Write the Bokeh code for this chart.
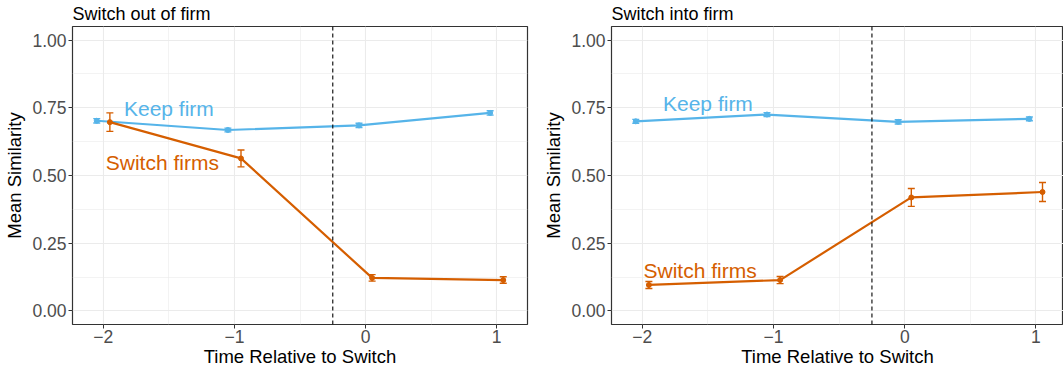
import numpy as np
from bokeh.plotting import figure
from bokeh.models import (FixedTicker, Span, Whisker, TeeHead, ColumnDataSource,
                          Range1d, NumeralTickFormatter)
from bokeh.layouts import row
from bokeh.embed import file_html
from bokeh.resources import INLINE
from bokeh.core.properties import value

# ---------------- data ----------------
time = [-2, -1, 0, 1]
dodge = 0.05

out_keep = [0.702, 0.668, 0.685, 0.731]
out_keep_err = [0.008, 0.007, 0.008, 0.008]
out_switch = [0.697, 0.563, 0.122, 0.114]
out_switch_err = [0.034, 0.031, 0.012, 0.012]

in_keep = [0.700, 0.725, 0.698, 0.709]
in_keep_err = [0.007, 0.007, 0.008, 0.007]
in_switch = [0.096, 0.114, 0.419, 0.439]
in_switch_err = [0.013, 0.013, 0.033, 0.035]

panel_titles = ["Switch out of firm", "Switch into firm"]
series_names = ["Keep firm", "Switch firms"]
x_ticks = [-2, -1, 0, 1]
x_tick_labels = ["\u22122", "\u22121", "0", "1"]
y_ticks = [0.0, 0.25, 0.5, 0.75, 1.0]
switch_time = -0.25

BLUE = "#56B4E9"
ORANGE = "#D55E00"
FONT = "Liberation Sans"


def make_panel(title, keep, keep_err, switch, switch_err, label_pos,
               width, x_end, border_right):
    p = figure(width=width, height=372, output_backend="svg",
               toolbar_location=None, x_range=Range1d(-2.235, x_end),
               y_range=Range1d(-0.05, 1.05),
               min_border_left=72, min_border_right=border_right,
               min_border_top=26, min_border_bottom=48)
    p.title.text = title
    p.title.text_font = FONT
    p.title.text_font_size = "18px"
    p.title.text_font_style = "normal"
    p.title.text_color = "#000000"
    p.title.vertical_align = "top"
    p.title.text_baseline = "top"
    p.title.standoff = 2
    p.title.offset = 0

    p.background_fill_color = "white"
    p.border_fill_color = "white"
    p.outline_line_color = "#333333"
    p.outline_line_width = 1.2

    p.xaxis.ticker = FixedTicker(ticks=x_ticks, minor_ticks=[-1.5, -0.5, 0.5])
    p.xaxis.major_label_overrides = {t: l for t, l in zip(x_ticks, x_tick_labels)}
    p.yaxis.ticker = FixedTicker(ticks=y_ticks, minor_ticks=[0.125, 0.375, 0.625, 0.875])
    p.yaxis.formatter = NumeralTickFormatter(format="0.00")
    p.xaxis.axis_label = "Time Relative to Switch"
    p.yaxis.axis_label = "Mean Similarity"
    for ax in (p.xaxis, p.yaxis):
        ax.axis_line_color = None
        ax.major_tick_line_color = "#333333"
        ax.major_tick_out = 4
        ax.major_tick_in = 0
        ax.minor_tick_line_color = None
        ax.major_label_text_font = FONT
        ax.major_label_text_color = "#4D4D4D"
        ax.major_label_text_font_size = "17.5px"
        ax.axis_label_text_font = FONT
        ax.axis_label_text_font_style = "normal"
        ax.axis_label_text_color = "#000000"
        ax.axis_label_text_font_size = "18.5px"
    p.xaxis.major_label_standoff = 1
    p.xaxis.axis_label_standoff = 0
    p.yaxis.major_label_standoff = 2
    p.yaxis.axis_label_standoff = 4
    for g in (p.xgrid, p.ygrid):
        g.grid_line_color = "#EBEBEB"
        g.grid_line_width = 1.1
        g.minor_grid_line_color = "#EBEBEB"
        g.minor_grid_line_width = 0.6

    p.add_layout(Span(location=switch_time, dimension="height",
                      line_color="#000000", line_dash="4 3", line_width=1.1))

    for vals, errs, off, col in ((keep, keep_err, -dodge, BLUE),
                                 (switch, switch_err, dodge, ORANGE)):
        v = np.array(vals)
        e = np.array(errs)
        src = ColumnDataSource(dict(x=np.array(time) + off, y=v,
                                    lower=v - e, upper=v + e))
        p.add_layout(Whisker(source=src, base="x", upper="upper", lower="lower",
                             dimension="height", line_color=col, line_width=1.4,
                             upper_head=TeeHead(size=7, line_color=col, line_width=1.4),
                             lower_head=TeeHead(size=7, line_color=col, line_width=1.4)))
        p.line("x", "y", source=src, line_color=col, line_width=2.2)
        p.scatter("x", "y", source=src, size=5, color=col)

    (kx, ky), (sx, sy) = label_pos
    p.text(x=[kx], y=[ky], text=[series_names[0]], text_color=BLUE,
           text_font=value(FONT), text_font_size="21px",
           text_align="center", text_baseline="middle")
    p.text(x=[sx], y=[sy], text=[series_names[1]], text_color=ORANGE,
           text_font=value(FONT), text_font_size="21px",
           text_align="center", text_baseline="middle")
    return p


p1 = make_panel(panel_titles[0], out_keep, out_keep_err, out_switch, out_switch_err,
                ((-1.5, 0.748), (-1.55, 0.547)), 539, 1.235, 12)
p2 = make_panel(panel_titles[1], in_keep, in_keep_err, in_switch, in_switch_err,
                ((-1.5, 0.767), (-1.56, 0.149)), 524, 1.21, 0)

layout = row(p1, p2)
open("out.html", "w").write(file_html(layout, INLINE))
